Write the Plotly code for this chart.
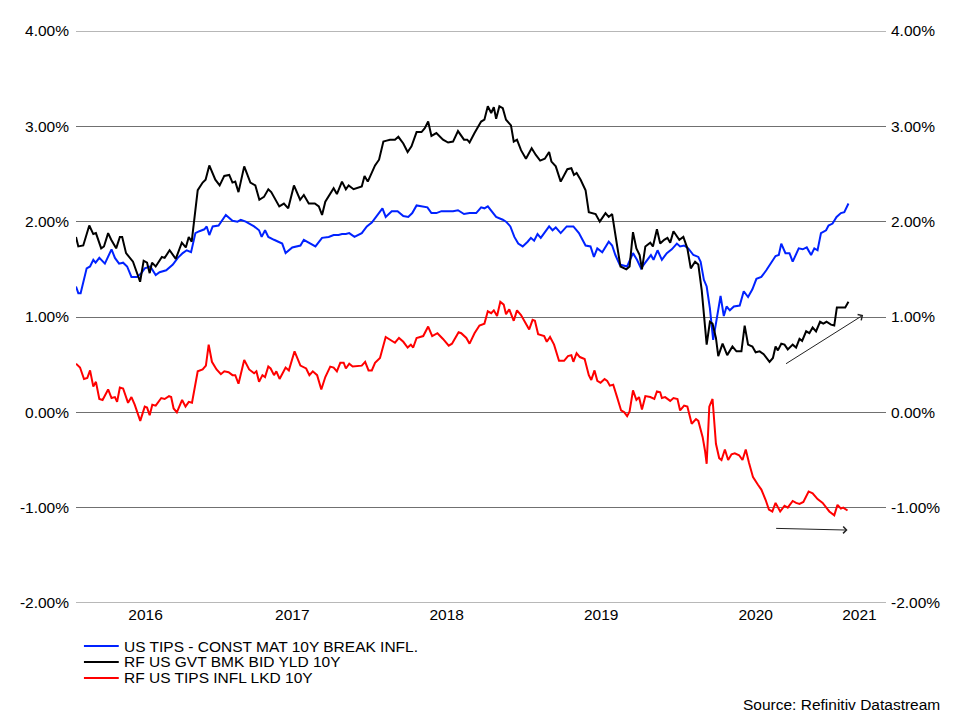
import plotly.graph_objects as go

# Weekly-ish readings, x in decimal years, y in percent
blue_x = [2016.100, 2016.115, 2016.130, 2016.169, 2016.191, 2016.212, 2016.227, 2016.251, 2016.287, 2016.330,
          2016.352, 2016.379, 2016.405, 2016.431, 2016.459, 2016.495, 2016.523, 2016.545, 2016.581, 2016.616,
          2016.641, 2016.684, 2016.727, 2016.759, 2016.791, 2016.817, 2016.845, 2016.873, 2016.899, 2016.931,
          2016.946, 2016.963, 2016.985, 2017.023, 2017.070, 2017.113, 2017.146, 2017.167, 2017.199, 2017.253,
          2017.285, 2017.302, 2017.324, 2017.345, 2017.382, 2017.435, 2017.457, 2017.500, 2017.553, 2017.575,
          2017.618, 2017.650, 2017.693, 2017.736, 2017.768, 2017.800, 2017.822, 2017.847, 2017.869, 2017.903,
          2017.950, 2017.983, 2018.015, 2018.053, 2018.084, 2018.105, 2018.144, 2018.182, 2018.219, 2018.251,
          2018.277, 2018.305, 2018.337, 2018.375, 2018.401, 2018.433, 2018.466, 2018.509, 2018.541, 2018.573,
          2018.612, 2018.648, 2018.691, 2018.723, 2018.744, 2018.766, 2018.788, 2018.820, 2018.863, 2018.884,
          2018.912, 2018.938, 2018.963, 2018.992, 2019.024, 2019.045, 2019.066, 2019.088, 2019.109, 2019.163,
          2019.185, 2019.206, 2019.238, 2019.277, 2019.320, 2019.356, 2019.399, 2019.431, 2019.453, 2019.475,
          2019.507, 2019.549, 2019.571, 2019.592, 2019.620, 2019.668, 2019.706, 2019.732, 2019.758, 2019.792,
          2019.822, 2019.839, 2019.865, 2019.893, 2019.925, 2019.957, 2019.990, 2020.011, 2020.037, 2020.064,
          2020.097, 2020.129, 2020.144, 2020.165, 2020.183, 2020.204, 2020.225, 2020.247, 2020.273, 2020.294,
          2020.312, 2020.333, 2020.359, 2020.397, 2020.423, 2020.451, 2020.479, 2020.505, 2020.537, 2020.569,
          2020.595, 2020.629, 2020.650, 2020.666, 2020.693, 2020.719, 2020.740, 2020.779, 2020.805, 2020.831,
          2020.859, 2020.880, 2020.901, 2020.923, 2020.956, 2020.972, 2020.998, 2021.024, 2021.052, 2021.074,
          2021.101]
blue_y = [1.32, 1.25, 1.25, 1.51, 1.53, 1.60, 1.57, 1.62, 1.56, 1.71,
          1.62, 1.56, 1.57, 1.53, 1.42, 1.42, 1.46, 1.51, 1.53, 1.44,
          1.47, 1.49, 1.55, 1.62, 1.67, 1.70, 1.68, 1.88, 1.90, 1.92,
          1.95, 1.86, 1.95, 1.96, 2.07, 2.01, 2.00, 2.02, 2.00, 1.95,
          1.91, 1.84, 1.91, 1.84, 1.81, 1.77, 1.67, 1.73, 1.75, 1.81,
          1.77, 1.74, 1.83, 1.84, 1.86, 1.86, 1.87, 1.87, 1.88, 1.84,
          1.88, 1.95, 1.99, 2.07, 2.14, 2.05, 2.11, 2.11, 2.06, 2.05,
          2.09, 2.17, 2.16, 2.15, 2.09, 2.09, 2.11, 2.11, 2.11, 2.12,
          2.08, 2.09, 2.09, 2.15, 2.14, 2.16, 2.11, 2.05, 2.02, 2.00,
          1.95, 1.84, 1.77, 1.74, 1.79, 1.83, 1.80, 1.87, 1.83, 1.95,
          1.91, 1.94, 1.88, 1.95, 1.95, 1.88, 1.75, 1.74, 1.63, 1.72,
          1.68, 1.79, 1.75, 1.65, 1.55, 1.53, 1.67, 1.60, 1.51, 1.58,
          1.65, 1.60, 1.70, 1.60, 1.67, 1.71, 1.77, 1.74, 1.75, 1.72,
          1.65, 1.63, 1.58, 1.39, 1.32, 1.09, 0.76, 0.97, 1.22, 1.01,
          1.11, 1.07, 1.11, 1.12, 1.27, 1.21, 1.29, 1.40, 1.42, 1.49,
          1.55, 1.64, 1.65, 1.77, 1.67, 1.67, 1.58, 1.72, 1.71, 1.73,
          1.65, 1.72, 1.70, 1.88, 1.91, 1.96, 1.98, 2.05, 2.09, 2.10,
          2.19]

black_x = [2016.100, 2016.115, 2016.147, 2016.186, 2016.212, 2016.229, 2016.263, 2016.281, 2016.308, 2016.328,
           2016.360, 2016.384, 2016.399, 2016.424, 2016.469, 2016.495, 2016.515, 2016.538, 2016.560, 2016.577,
           2016.592, 2016.616, 2016.656, 2016.674, 2016.706, 2016.746, 2016.785, 2016.811, 2016.830, 2016.849,
           2016.867, 2016.888, 2016.920, 2016.939, 2016.963, 2017.002, 2017.030, 2017.060, 2017.092, 2017.113,
           2017.131, 2017.152, 2017.189, 2017.229, 2017.261, 2017.287, 2017.317, 2017.345, 2017.364, 2017.390,
           2017.416, 2017.446, 2017.474, 2017.511, 2017.551, 2017.575, 2017.607, 2017.646, 2017.672, 2017.693,
           2017.714, 2017.768, 2017.789, 2017.822, 2017.847, 2017.865, 2017.897, 2017.950, 2017.968, 2017.989,
           2018.036, 2018.062, 2018.090, 2018.111, 2018.133, 2018.165, 2018.187, 2018.219, 2018.247, 2018.272,
           2018.305, 2018.337, 2018.358, 2018.380, 2018.401, 2018.433, 2018.476, 2018.509, 2018.541, 2018.573,
           2018.612, 2018.633, 2018.648, 2018.680, 2018.723, 2018.744, 2018.766, 2018.788, 2018.805, 2018.820,
           2018.841, 2018.863, 2018.884, 2018.916, 2018.934, 2018.955, 2018.981, 2019.013, 2019.050, 2019.077,
           2019.105, 2019.135, 2019.163, 2019.178, 2019.206, 2019.238, 2019.281, 2019.307, 2019.324, 2019.341,
           2019.367, 2019.399, 2019.420, 2019.464, 2019.491, 2019.528, 2019.549, 2019.571, 2019.581, 2019.603,
           2019.625, 2019.663, 2019.684, 2019.706, 2019.728, 2019.749, 2019.764, 2019.786, 2019.818, 2019.835,
           2019.861, 2019.882, 2019.908, 2019.929, 2019.947, 2019.968, 2020.006, 2020.032, 2020.058, 2020.080,
           2020.108, 2020.129, 2020.151, 2020.165, 2020.183, 2020.204, 2020.221, 2020.243, 2020.258, 2020.286,
           2020.316, 2020.350, 2020.376, 2020.408, 2020.429, 2020.451, 2020.479, 2020.500, 2020.526, 2020.552,
           2020.590, 2020.612, 2020.629, 2020.644, 2020.666, 2020.687, 2020.708, 2020.740, 2020.762, 2020.784,
           2020.801, 2020.827, 2020.848, 2020.869, 2020.891, 2020.917, 2020.938, 2020.959, 2020.988, 2021.009,
           2021.026, 2021.062, 2021.080, 2021.101]
black_y = [1.84, 1.74, 1.75, 1.96, 1.87, 1.88, 1.72, 1.74, 1.88, 1.81,
           1.72, 1.84, 1.84, 1.67, 1.58, 1.47, 1.37, 1.59, 1.57, 1.46,
           1.57, 1.53, 1.63, 1.62, 1.70, 1.61, 1.78, 1.73, 1.84, 1.79,
           2.05, 2.33, 2.41, 2.44, 2.59, 2.44, 2.38, 2.48, 2.49, 2.41,
           2.42, 2.31, 2.58, 2.41, 2.38, 2.23, 2.26, 2.34, 2.31, 2.23,
           2.16, 2.19, 2.14, 2.38, 2.23, 2.28, 2.19, 2.19, 2.16, 2.07,
           2.21, 2.35, 2.29, 2.42, 2.34, 2.38, 2.34, 2.37, 2.48, 2.42,
           2.59, 2.65, 2.84, 2.85, 2.86, 2.86, 2.89, 2.82, 2.73, 2.79,
           2.94, 2.94, 2.98, 3.05, 2.90, 2.93, 2.86, 2.83, 2.84, 2.95,
           2.86, 2.86, 2.83, 2.93, 3.05, 3.07, 3.21, 3.14, 3.20, 3.08,
           3.21, 3.19, 3.07, 3.01, 2.84, 2.86, 2.75, 2.66, 2.77, 2.70,
           2.64, 2.66, 2.73, 2.63, 2.58, 2.42, 2.55, 2.56, 2.49, 2.51,
           2.44, 2.33, 2.10, 2.08, 2.00, 2.09, 2.05, 2.08, 1.96, 1.75,
           1.53, 1.50, 1.53, 1.89, 1.72, 1.65, 1.50, 1.74, 1.78, 1.74,
           1.92, 1.77, 1.81, 1.83, 1.78, 1.90, 1.81, 1.84, 1.72, 1.51,
           1.58, 1.55, 1.28, 1.00, 0.71, 0.95, 0.93, 0.78, 0.59, 0.72,
           0.60, 0.69, 0.64, 0.64, 0.91, 0.71, 0.69, 0.63, 0.64, 0.61,
           0.53, 0.57, 0.69, 0.65, 0.72, 0.71, 0.66, 0.71, 0.68, 0.77,
           0.75, 0.85, 0.83, 0.89, 0.85, 0.95, 0.93, 0.95, 0.92, 0.91,
           1.10, 1.10, 1.10, 1.16]

red_x = [2016.100, 2016.126, 2016.152, 2016.173, 2016.191, 2016.212, 2016.229, 2016.251, 2016.272, 2016.308,
         2016.330, 2016.352, 2016.366, 2016.384, 2016.405, 2016.437, 2016.459, 2016.480, 2016.516, 2016.545,
         2016.560, 2016.577, 2016.594, 2016.616, 2016.652, 2016.674, 2016.702, 2016.716, 2016.732, 2016.753,
         2016.787, 2016.809, 2016.830, 2016.851, 2016.888, 2016.920, 2016.941, 2016.959, 2016.980, 2017.010,
         2017.038, 2017.060, 2017.088, 2017.113, 2017.131, 2017.152, 2017.189, 2017.221, 2017.253, 2017.268,
         2017.285, 2017.307, 2017.324, 2017.345, 2017.360, 2017.382, 2017.397, 2017.418, 2017.457, 2017.478,
         2017.515, 2017.553, 2017.590, 2017.611, 2017.633, 2017.661, 2017.688, 2017.714, 2017.746, 2017.768,
         2017.789, 2017.811, 2017.833, 2017.847, 2017.869, 2017.891, 2017.950, 2017.972, 2017.994, 2018.015,
         2018.036, 2018.068, 2018.105, 2018.144, 2018.165, 2018.191, 2018.219, 2018.247, 2018.268, 2018.283,
         2018.305, 2018.348, 2018.380, 2018.406, 2018.440, 2018.476, 2018.513, 2018.534, 2018.577, 2018.594,
         2018.627, 2018.648, 2018.680, 2018.712, 2018.744, 2018.766, 2018.788, 2018.805, 2018.826, 2018.847,
         2018.869, 2018.884, 2018.905, 2018.934, 2018.955, 2018.981, 2019.006, 2019.034, 2019.056, 2019.071,
         2019.092, 2019.131, 2019.148, 2019.169, 2019.195, 2019.227, 2019.260, 2019.285, 2019.307, 2019.320,
         2019.341, 2019.362, 2019.393, 2019.420, 2019.436, 2019.457, 2019.475, 2019.496, 2019.522, 2019.539,
         2019.556, 2019.578, 2019.603, 2019.629, 2019.650, 2019.668, 2019.684, 2019.706, 2019.728, 2019.745,
         2019.764, 2019.786, 2019.818, 2019.844, 2019.861, 2019.882, 2019.893, 2019.914, 2019.947, 2019.968,
         2019.994, 2020.011, 2020.037, 2020.058, 2020.086, 2020.114, 2020.129, 2020.157, 2020.172, 2020.183,
         2020.200, 2020.221, 2020.243, 2020.264, 2020.279, 2020.301, 2020.322, 2020.344, 2020.365, 2020.393,
         2020.415, 2020.436, 2020.457, 2020.483, 2020.515, 2020.537, 2020.565, 2020.586, 2020.608, 2020.629,
         2020.659, 2020.687, 2020.708, 2020.740, 2020.762, 2020.784, 2020.809, 2020.843, 2020.869, 2020.901,
         2020.934, 2020.977, 2021.009, 2021.030, 2021.052, 2021.067, 2021.095]
red_y = [0.51, 0.47, 0.35, 0.36, 0.44, 0.27, 0.32, 0.14, 0.13, 0.24,
         0.15, 0.16, 0.11, 0.26, 0.25, 0.10, 0.16, 0.08, -0.09, 0.06,
         0.05, -0.03, 0.08, 0.07, 0.15, 0.14, 0.17, 0.16, 0.04, 0.00,
         0.13, 0.06, 0.11, 0.10, 0.43, 0.45, 0.49, 0.71, 0.53, 0.45,
         0.40, 0.43, 0.42, 0.39, 0.39, 0.30, 0.55, 0.45, 0.41, 0.43,
         0.32, 0.39, 0.37, 0.48, 0.46, 0.39, 0.43, 0.35, 0.47, 0.44,
         0.64, 0.49, 0.46, 0.39, 0.43, 0.39, 0.24, 0.37, 0.48, 0.47,
         0.43, 0.52, 0.52, 0.46, 0.51, 0.48, 0.49, 0.53, 0.44, 0.44,
         0.52, 0.57, 0.79, 0.75, 0.73, 0.78, 0.74, 0.68, 0.71, 0.68,
         0.78, 0.80, 0.90, 0.80, 0.83, 0.77, 0.70, 0.72, 0.84, 0.83,
         0.78, 0.72, 0.83, 0.91, 0.93, 1.06, 1.04, 1.07, 1.01, 1.16,
         1.13, 1.03, 1.08, 0.96, 1.07, 1.02, 0.95, 0.87, 0.97, 0.96,
         0.82, 0.80, 0.74, 0.79, 0.71, 0.54, 0.54, 0.59, 0.60, 0.53,
         0.62, 0.58, 0.56, 0.39, 0.34, 0.44, 0.33, 0.31, 0.35, 0.33,
         0.28, 0.29, 0.16, 0.02, 0.00, -0.04, 0.01, 0.23, 0.13, 0.16,
         0.03, 0.17, 0.16, 0.14, 0.22, 0.21, 0.15, 0.16, 0.12, 0.15,
         0.14, 0.02, 0.07, 0.06, -0.12, -0.07, -0.09, -0.26, -0.40, -0.54,
         0.06, 0.14, -0.33, -0.48, -0.50, -0.39, -0.50, -0.44, -0.43, -0.45,
         -0.50, -0.39, -0.53, -0.68, -0.76, -0.81, -0.92, -1.02, -1.04, -0.95,
         -1.04, -0.98, -1.00, -0.93, -0.95, -0.96, -0.94, -0.83, -0.85, -0.91,
         -0.95, -1.04, -1.08, -0.97, -1.01, -1.00, -1.03]

assert len(blue_x) == len(blue_y)
assert len(black_x) == len(black_y)
assert len(red_x) == len(red_y)

names = ["US TIPS - CONST MAT 10Y BREAK INFL.", "RF US GVT BMK BID YLD 10Y", "RF US TIPS INFL LKD 10Y"]
colors = ["#0022ff", "#000000", "#ff0000"]

y_ticks = [-2, -1, 0, 1, 2, 3, 4]
y_labels = ["-2.00%", "-1.00%", "0.00%", "1.00%", "2.00%", "3.00%", "4.00%"]
# year labels sit in the middle of the visible part of each year
year_pos = [2016.55, 2017.5, 2018.5, 2019.5, 2020.5, 2021.172]
year_labels = ["2016", "2017", "2018", "2019", "2020", "2021"]

x_range = [2016.100, 2021.344]
y_range = [-2, 4]
font = "Arial, Liberation Sans, sans-serif"
fsize = 15.5
grid_col = "#707070"

fig = go.Figure()
axes = ["y", "y", "y2"]  # last series on the right-hand axis so both scales show
for xs, ys, name, col, ax in zip([blue_x, black_x, red_x], [blue_y, black_y, red_y], names, colors, axes):
    fig.add_trace(go.Scatter(x=xs, y=ys, mode="lines", name=name, yaxis=ax,
                             line=dict(color=col, width=2), showlegend=False))

# plotly skips gridlines on the range edges, so draw those two by hand
for edge in (y_range[0], y_range[1]):
    fig.add_shape(type="line", xref="paper", yref="y", x0=0, x1=1, y0=edge, y1=edge,
                  line=dict(color=grid_col, width=1), layer="below")

# legend drawn by hand so rows sit as tightly as in the original
leg_rows = [-0.0752, -0.1031, -0.1311]
for name, col, ly in zip(names, colors, leg_rows):
    fig.add_shape(type="line", xref="paper", yref="paper", x0=0.0098, x1=0.0528, y0=ly, y1=ly,
                  line=dict(color=col, width=2))
    fig.add_annotation(text=name, xref="paper", yref="paper", x=0.0565, y=ly,
                       xanchor="left", yanchor="middle", showarrow=False,
                       font=dict(family=font, size=fsize, color="#000000"))

# trend arrows
fig.add_annotation(x=2021.196, y=1.02, ax=2020.687, ay=0.50, xref="x", yref="y",
                   axref="x", ayref="y", showarrow=True, arrowhead=4, arrowsize=1.3,
                   arrowwidth=1, arrowcolor="#222222", text="")
fig.add_annotation(x=2021.095, y=-1.235, ax=2020.623, ay=-1.217, xref="x", yref="y",
                   axref="x", ayref="y", showarrow=True, arrowhead=4, arrowsize=1.3,
                   arrowwidth=1, arrowcolor="#222222", text="")

fig.add_annotation(text="Source: Refinitiv Datastream", xref="paper", yref="paper",
                   x=1.0688, y=-0.1766, xanchor="right", yanchor="middle", showarrow=False,
                   font=dict(family=font, size=fsize, color="#000000"))

# page body adds 8px, so the figure is 944x704 and margins are trimmed by 8
fig.update_layout(
    width=944, height=704,
    margin=dict(l=64, r=66, t=23, b=109),
    paper_bgcolor="white", plot_bgcolor="white",
    font=dict(family=font, size=fsize, color="#000000"),
    showlegend=False,
    xaxis=dict(range=x_range, tickmode="array", tickvals=year_pos, ticktext=year_labels,
               showgrid=False, zeroline=False, showline=False, ticks="", fixedrange=True),
    yaxis=dict(range=y_range, tickmode="array", tickvals=y_ticks, ticktext=y_labels,
               showgrid=True, gridcolor=grid_col, gridwidth=1, zeroline=False,
               showline=False, ticks="", ticklabelstandoff=6),
    yaxis2=dict(range=y_range, tickmode="array", tickvals=y_ticks, ticktext=y_labels,
                overlaying="y", side="right", showgrid=False, zeroline=False,
                showline=False, ticks="", ticklabelstandoff=4),
)

fig.write_html("out.html")
